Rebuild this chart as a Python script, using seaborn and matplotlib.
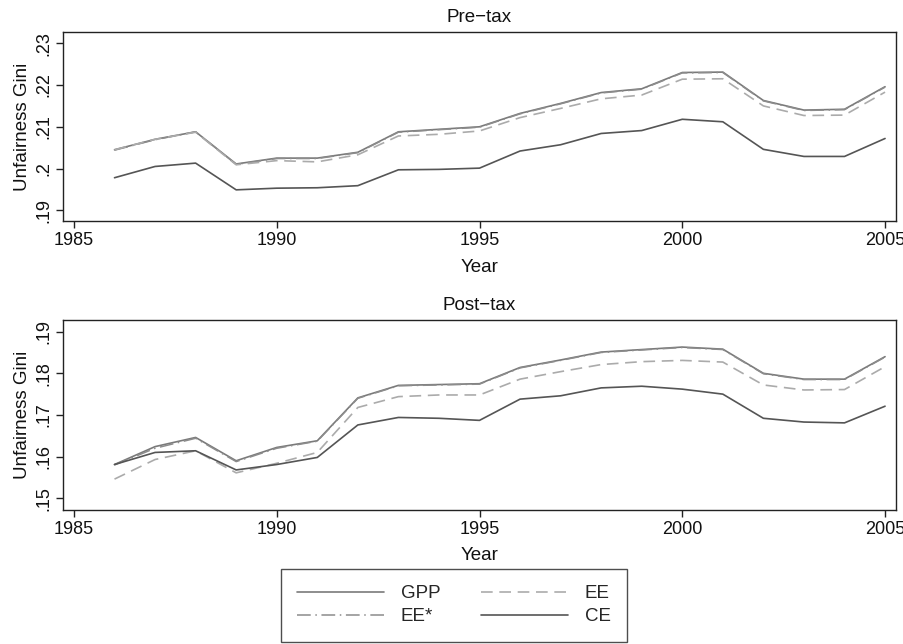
import matplotlib
matplotlib.use("Agg")
import matplotlib.pyplot as plt
import seaborn as sns
import numpy as np
import pandas as pd
from matplotlib.lines import Line2D
from matplotlib.ticker import FixedLocator, FuncFormatter

years = list(range(1986, 2006))

pre_gpp = [.2045, .2070, .2088, .2011, .2025, .2025, .2039, .2088, .2094, .2100,
           .2132, .2156, .2182, .2191, .2230, .2231, .2163, .2140, .2142, .2196]
pre_eestar = [.2044, .2069, .2088, .2010, .2024, .2024, .2038, .2087, .2093, .2099,
              .2131, .2155, .2181, .2190, .2229, .2230, .2162, .2139, .2141, .2195]
pre_ee = [.2045, .2070, .2087, .2009, .2019, .2016, .2033, .2078, .2082, .2090,
          .2122, .2144, .2167, .2176, .2214, .2215, .2150, .2127, .2128, .2183]
pre_ce = [.1978, .2005, .2013, .1949, .1953, .1954, .1959, .1997, .1998, .2001,
          .2042, .2057, .2084, .2091, .2118, .2112, .2046, .2029, .2029, .2072]

post_gpp = [.1581, .1624, .1646, .1590, .1622, .1638, .1741, .1771, .1773, .1775,
            .1814, .1832, .1851, .1857, .1863, .1858, .1800, .1786, .1786, .1840]
post_eestar = [.1580, .1620, .1644, .1588, .1620, .1637, .1740, .1770, .1772, .1774,
               .1813, .1831, .1850, .1856, .1862, .1857, .1799, .1785, .1785, .1839]
post_ee = [.1546, .1593, .1614, .1561, .1584, .1610, .1718, .1744, .1748, .1748,
           .1786, .1804, .1821, .1828, .1831, .1827, .1772, .1760, .1761, .1816]
post_ce = [.1581, .1610, .1614, .1568, .1581, .1598, .1676, .1694, .1692, .1687,
           .1738, .1746, .1765, .1769, .1762, .1750, .1692, .1683, .1681, .1721]

series_names = ["GPP", "EE*", "EE", "CE"]
panel_titles = ["Pre\u2212tax", "Post\u2212tax"]
x_ticks = [1985, 1990, 1995, 2000, 2005]
pre_yticks = [.19, .20, .21, .22, .23]
post_yticks = [.15, .16, .17, .18, .19]

sns.set_theme(style="white")
plt.rcParams['font.family'] = ['Liberation Sans', 'DejaVu Sans']

styles = {
    "GPP": dict(color="#7a7a7a", linestyle="-", lw=1.2),
    "EE*": dict(color="#8c8c8c", linestyle=(0, (9, 3, 1, 3)), lw=1.1),
    "EE": dict(color="#ababab", linestyle=(0, (7, 4)), lw=1.2),
    "CE": dict(color="#555555", linestyle="-", lw=1.2),
}

W, H = 904, 644
fig = plt.figure(figsize=(W / 100, H / 100), dpi=100)
ax1 = fig.add_axes([63 / W, 1 - 221 / H, 833 / W, 189 / H])
ax2 = fig.add_axes([63 / W, 1 - 509.5 / H, 833 / W, 189.5 / H])

panels = [
    (ax1, [pre_gpp, pre_eestar, pre_ee, pre_ce], pre_yticks, (0.18744, 0.2327), panel_titles[0]),
    (ax2, [post_gpp, post_eestar, post_ee, post_ce], post_yticks, (0.1473, 0.1928), panel_titles[1]),
]

def yfmt(v, pos):
    s = f"{v:.2f}".rstrip("0")
    if s.startswith("0"):
        s = s[1:]
    return s

for ax, data, yt, ylim, title in panels:
    for name, vals in zip(series_names, data):
        st = styles[name]
        sns.lineplot(x=years, y=vals, ax=ax, color=st["color"], linestyle=st["linestyle"],
                     linewidth=st["lw"], legend=False)
    ax.set_xlim(1984.73, 2005.27)
    ax.set_ylim(*ylim)
    ax.xaxis.set_major_locator(FixedLocator(x_ticks))
    ax.yaxis.set_major_locator(FixedLocator(yt))
    ax.yaxis.set_major_formatter(FuncFormatter(yfmt))
    ax.tick_params(axis="both", direction="out", length=5, width=1, color="#222222",
                   labelsize=13, labelcolor="#111111", bottom=True, left=True, pad=3)
    for lab in ax.get_yticklabels():
        lab.set_rotation(90)
        lab.set_va("center")
    ax.set_xlabel("Year", fontsize=13.5, color="#111111", labelpad=7)
    ax.set_ylabel("Unfairness Gini", fontsize=13.5, color="#111111", labelpad=3)
    ax.set_title(title, fontsize=13.5, color="#111111", pad=7)
    for sp in ax.spines.values():
        sp.set_color("#222222")
        sp.set_linewidth(1.0)
        sp.set_visible(True)

handles = [Line2D([], [], color=styles[n]["color"], linestyle=styles[n]["linestyle"],
                  linewidth=styles[n]["lw"]) for n in series_names]
leg = fig.legend(handles, series_names, ncol=2, loc="upper center",
                 bbox_to_anchor=(454 / W, 1 - 569 / H), frameon=True, fancybox=False,
                 fontsize=13.5, handlelength=4.6, handletextpad=0.9, columnspacing=2.2,
                 borderpad=0.87, labelspacing=0.3, borderaxespad=0, edgecolor="#222222")
leg.get_frame().set_linewidth(1.0)

fig.savefig("out.png", dpi=100, facecolor="white")
